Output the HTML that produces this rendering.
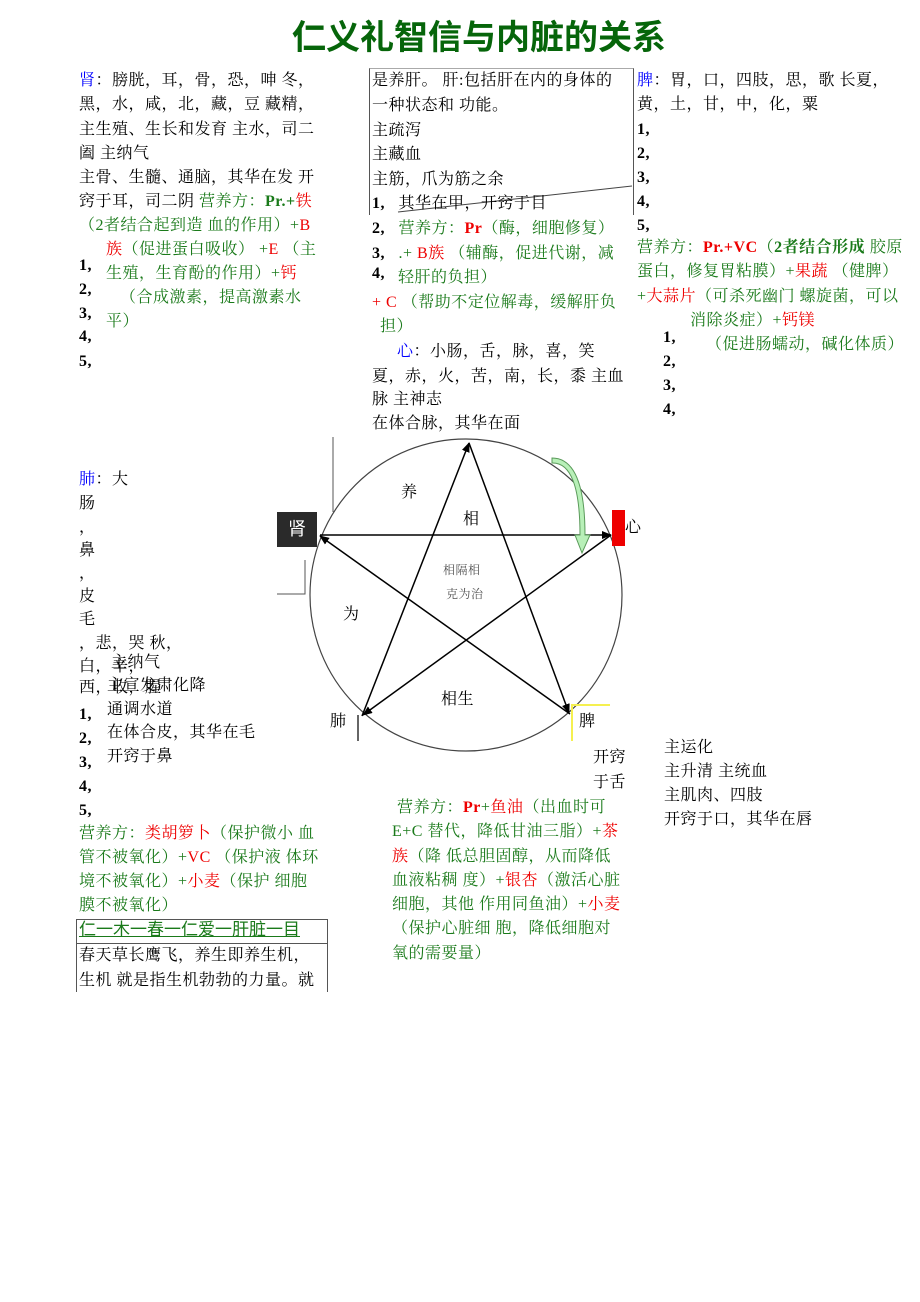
<!DOCTYPE html>
<html><head><meta charset="utf-8"><style>
body{margin:0;background:#fff;}
#p{position:relative;width:920px;height:1302px;overflow:hidden;font-family:"Liberation Serif","Noto Serif CJK SC","Noto Sans CJK SC",serif;}
.t{position:absolute;font-size:16px;letter-spacing:0.5px;line-height:20px;white-space:nowrap;color:#000;}
.g{color:#1a7a1a;}.r{color:#e00;}.b{color:#00f;}
.bo{font-weight:bold;}
h1{position:absolute;left:0;width:958px;top:10px;margin:0;text-align:center;font-size:34px;color:#06650a;font-family:"Liberation Sans","Noto Sans CJK SC",sans-serif;font-weight:bold;}
</style></head><body><div id="p">
<h1>仁义礼智信与内脏的关系</h1>

<!-- left column -->
<div class="t" style="left:79px;top:71px"><span class="b">肾</span>：膀胱，耳，骨，恐，呻 冬，</div>
<div class="t" style="left:79px;top:95px">黑，水，咸，北，藏，豆 藏精，</div>
<div class="t" style="left:79px;top:120px">主生殖、生长和发育 主水，司二</div>
<div class="t" style="left:79px;top:144px">阖 主纳气</div>
<div class="t" style="left:79px;top:168px">主骨、生髓、通脑，其华在发 开</div>
<div class="t" style="left:79px;top:192px">窍于耳，司二阴 <span class="g">营养方：<b>Pr.+</b></span><span class="r">铁</span></div>
<div class="t g" style="left:79px;top:216px">（2者结合起到造 血的作用）+<span class="r">B</span></div>
<div class="t g" style="left:106px;top:240px"><span class="r">族</span>（促进蛋白吸收） +<span class="r">E</span> （主</div>
<div class="t bo" style="left:79px;top:256px">1,</div>
<div class="t g" style="left:106px;top:264px">生殖，生育酚的作用）+<span class="r">钙</span></div>
<div class="t bo" style="left:79px;top:280px">2,</div>
<div class="t g" style="left:120px;top:288px">（合成激素，提高激素水</div>
<div class="t bo" style="left:79px;top:304px">3,</div>
<div class="t g" style="left:106px;top:312px">平）</div>
<div class="t bo" style="left:79px;top:327px">4,</div>
<div class="t bo" style="left:79px;top:352px">5,</div>

<!-- middle column -->
<div style="position:absolute;left:369px;top:68px;width:263px;height:146px;border-left:1px solid #555;border-right:1px solid #555;border-top:1px solid #aaa;"></div>
<svg style="position:absolute;left:0;top:0" width="920" height="1302"><line x1="398" y1="212" x2="632" y2="186" stroke="#444" stroke-width="1"/></svg>
<div class="t" style="left:372px;top:71px">是养肝。 肝:包括肝在内的身体的</div>
<div class="t" style="left:372px;top:96px">一种状态和 功能。</div>
<div class="t" style="left:372px;top:121px">主疏泻</div>
<div class="t" style="left:372px;top:145px">主藏血</div>
<div class="t" style="left:372px;top:170px">主筋，爪为筋之余</div>
<div class="t" style="left:372px;top:194px"><b>1,</b>&nbsp;&nbsp; 其华在甲，开窍于目</div>
<div class="t g" style="left:372px;top:219px"><b style="color:#000">2,</b>&nbsp;&nbsp; 营养方：<span class="r bo">Pr</span>（酶，细胞修复）</div>
<div class="t g" style="left:372px;top:244px"><b style="color:#000">3,</b>&nbsp;&nbsp; .+ <span class="r">B族</span> （辅酶，促进代谢，减</div>
<div class="t bo" style="left:372px;top:264px">4,</div>
<div class="t g" style="left:398px;top:268px">轻肝的负担）</div>
<div class="t g" style="left:372px;top:293px"><span class="r">+ C</span> （帮助不定位解毒，缓解肝负</div>
<div class="t g" style="left:380px;top:317px">担）</div>
<div class="t" style="left:397px;top:342px"><span class="b">心</span>：小肠，舌，脉，喜，笑</div>
<div class="t" style="left:372px;top:367px">夏，赤，火，苦，南，长，黍 主血</div>
<div class="t" style="left:372px;top:390px">脉 主神志</div>
<div class="t" style="left:372px;top:414px">在体合脉，其华在面</div>

<!-- right column -->
<div class="t" style="left:637px;top:71px"><span class="b">脾</span>：胃，口，四肢，思，歌 长夏，</div>
<div class="t" style="left:637px;top:95px">黄，土，甘，中，化，粟</div>
<div class="t bo" style="left:637px;top:120px">1,</div>
<div class="t bo" style="left:637px;top:144px">2,</div>
<div class="t bo" style="left:637px;top:168px">3,</div>
<div class="t bo" style="left:637px;top:192px">4,</div>
<div class="t bo" style="left:637px;top:216px">5,</div>
<div class="t g" style="left:637px;top:238px">营养方：<b class="r">Pr.+VC</b>（<b>2者结合形成</b> 胶原</div>
<div class="t g" style="left:637px;top:262px">蛋白，修复胃粘膜）+<span class="r">果蔬</span> （健脾）</div>
<div class="t g" style="left:637px;top:287px">+<span class="r">大蒜片</span>（可杀死幽门 螺旋菌，可以</div>
<div class="t g" style="left:690px;top:311px">消除炎症）+<span class="r">钙镁</span></div>
<div class="t bo" style="left:663px;top:328px">1,</div>
<div class="t g" style="left:706px;top:335px">（促进肠蠕动，碱化体质）</div>
<div class="t bo" style="left:663px;top:352px">2,</div>
<div class="t bo" style="left:663px;top:376px">3,</div>
<div class="t bo" style="left:663px;top:400px">4,</div>

<!-- diagram -->
<svg style="position:absolute;left:0;top:0" width="920" height="1302">
<defs><marker id="a" markerWidth="10" markerHeight="8" refX="9" refY="4" orient="auto" markerUnits="userSpaceOnUse"><path d="M0,0 L10,4 L0,8 z" fill="#000"/></marker></defs>
<line x1="333" y1="437" x2="333" y2="512" stroke="#555"/>
<polyline points="277,594 305,594 305,560" fill="none" stroke="#555"/>
<circle cx="466" cy="595" r="156" fill="none" stroke="#444" stroke-width="1.2"/>
<rect x="624" y="430" width="40" height="340" fill="#fff"/>
<rect x="277" y="512" width="40" height="35" fill="#2a2a2a"/>
<rect x="612" y="510" width="13" height="36" fill="#e00"/>
<line x1="320" y1="535" x2="611" y2="535" stroke="#000" stroke-width="1.5" marker-end="url(#a)"/>
<line x1="570" y1="714" x2="320" y2="536" stroke="#000" stroke-width="1.5" marker-end="url(#a)"/>
<line x1="469" y1="443" x2="569" y2="713" stroke="#000" stroke-width="1.5" marker-end="url(#a)"/>
<line x1="611" y1="535" x2="363" y2="715" stroke="#000" stroke-width="1.5" marker-end="url(#a)"/>
<line x1="362" y1="716" x2="469" y2="443" stroke="#000" stroke-width="1.5" marker-end="url(#a)"/>
<path d="M552,463 Q580,462 580,535 L575,535 L582,553 L590,535 L585,535 Q585,458 552,458 z" fill="#b8f0b8" stroke="#5a9a5a"/>
<line x1="358" y1="715" x2="358" y2="741" stroke="#333" stroke-width="1.5"/>
<polyline points="572,741 572,705 610,705" fill="none" stroke="#f5f050" stroke-width="2"/>
</svg>
<div class="t" style="left:288px;top:517px;color:#fff;font-size:18px;line-height:24px;font-family:'Liberation Sans','Noto Sans CJK SC',sans-serif">肾</div>
<div class="t" style="left:625px;top:518px;font-size:16px">心</div>
<div class="t" style="left:401px;top:483px">养</div>
<div class="t" style="left:463px;top:510px">相</div>
<div class="t" style="left:443px;top:560px;font-size:12px;color:#555">相隔相</div>
<div class="t" style="left:446px;top:584px;font-size:12px;color:#555">克为治</div>
<div class="t" style="left:343px;top:605px">为</div>
<div class="t" style="left:441px;top:690px">相生</div>
<div class="t" style="left:330px;top:712px;font-size:16px">肺</div>
<div class="t" style="left:579px;top:712px;font-size:16px">脾</div>

<!-- lower left -->
<div class="t" style="left:79px;top:470px"><span class="b">肺</span>：大</div>
<div class="t" style="left:79px;top:494px">肠</div>
<div class="t" style="left:79px;top:518px">，</div>
<div class="t" style="left:79px;top:541px">鼻</div>
<div class="t" style="left:79px;top:564px">，</div>
<div class="t" style="left:79px;top:587px">皮</div>
<div class="t" style="left:79px;top:610px">毛</div>
<div class="t" style="left:79px;top:634px">，悲，哭 秋，</div>
<div class="t" style="left:79px;top:657px">白，辛，</div>
<div class="t" style="left:111px;top:653px">主纳气</div>
<div class="t" style="left:79px;top:678px">西，收，腥</div>
<div class="t" style="left:107px;top:676px">主宣发肃化降</div>
<div class="t" style="left:107px;top:700px">通调水道</div>
<div class="t" style="left:107px;top:723px">在体合皮，其华在毛</div>
<div class="t" style="left:107px;top:747px">开窍于鼻</div>
<div class="t bo" style="left:79px;top:705px">1,</div>
<div class="t bo" style="left:79px;top:729px">2,</div>
<div class="t bo" style="left:79px;top:753px">3,</div>
<div class="t bo" style="left:79px;top:777px">4,</div>
<div class="t bo" style="left:79px;top:801px">5,</div>
<div class="t g" style="left:79px;top:824px">营养方：<span class="r">类胡箩卜</span>（保护微小 血</div>
<div class="t g" style="left:79px;top:848px">管不被氧化）+<span class="r">VC</span> （保护液 体环</div>
<div class="t g" style="left:79px;top:872px">境不被氧化）+<span class="r">小麦</span>（保护 细胞</div>
<div class="t g" style="left:79px;top:896px">膜不被氧化）</div>
<div style="position:absolute;left:76px;top:919px;width:250px;height:72px;border-left:1px solid #555;border-right:1px solid #555;border-top:1px solid #555;"></div>
<div class="t g" style="left:79px;top:920px;font-size:17px;letter-spacing:0;text-decoration:underline;font-family:'Liberation Sans','Noto Sans CJK SC',sans-serif">仁一木一春一仁爱一肝脏一目</div>
<div style="position:absolute;left:76px;top:943px;width:251px;border-top:1px solid #555"></div>
<div class="t" style="left:79px;top:946px">春天草长鹰飞，养生即养生机，</div>
<div class="t" style="left:79px;top:971px">生机 就是指生机勃勃的力量。就</div>

<!-- lower middle -->
<div class="t" style="left:593px;top:748px">开窍</div>
<div class="t" style="left:593px;top:773px">于舌</div>
<div class="t g" style="left:397px;top:798px">营养方：<b class="r">Pr</b>+<span class="r">鱼油</span>（出血时可</div>
<div class="t g" style="left:392px;top:822px">E+C 替代，降低甘油三脂）+<span class="r">茶</span></div>
<div class="t g" style="left:392px;top:847px"><span class="r">族</span>（降 低总胆固醇，从而降低</div>
<div class="t g" style="left:392px;top:871px">血液粘稠 度）+<span class="r">银杏</span>（激活心脏</div>
<div class="t g" style="left:392px;top:895px">细胞，其他 作用同鱼油）+<span class="r">小麦</span></div>
<div class="t g" style="left:392px;top:919px">（保护心脏细 胞，降低细胞对</div>
<div class="t g" style="left:392px;top:944px">氧的需要量）</div>

<!-- lower right -->
<div class="t" style="left:664px;top:738px">主运化</div>
<div class="t" style="left:664px;top:762px">主升清 主统血</div>
<div class="t" style="left:664px;top:786px">主肌肉、四肢</div>
<div class="t" style="left:664px;top:810px">开窍于口，其华在唇</div>
</div></body></html>
